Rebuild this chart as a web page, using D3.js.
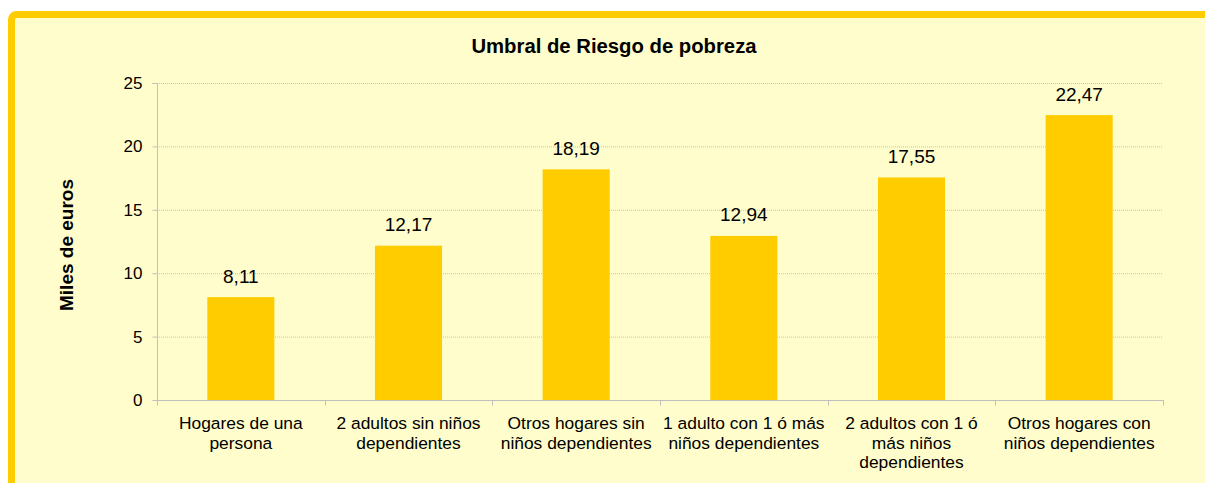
<!DOCTYPE html>
<html>
<head>
<meta charset="utf-8">
<script src="https://cdn.jsdelivr.net/npm/d3@7"></script>
<style>
  body { margin: 0; background: #fff; overflow: hidden; }
  text { font-family: "Liberation Sans", Arial, sans-serif; fill: #000; }
</style>
</head>
<body>
<div id="chart"></div>
<script>
const categories = [
  "Hogares de una\npersona",
  "2 adultos sin niños\ndependientes",
  "Otros hogares sin\nniños dependientes",
  "1 adulto con 1 ó más\nniños dependientes",
  "2 adultos con 1 ó\nmás niños\ndependientes",
  "Otros hogares con\nniños dependientes"
];
const values = [8.11, 12.17, 18.19, 12.94, 17.55, 22.47];
const yTicks = [0, 5, 10, 15, 20, 25];

const width = 1205, height = 483;
const plot = {left: 157, right: 1163, top: 83, bottom: 400};

const svg = d3.select("#chart").append("svg")
  .attr("width", width)
  .attr("height", height);

// chart frame, runs past the window on the right and bottom
svg.append("rect")
  .attr("x", 11.5).attr("y", 14.5)
  .attr("width", 1400).attr("height", 700)
  .attr("rx", 5)
  .attr("fill", "#FFFDCB")
  .attr("stroke", "#FFCC00")
  .attr("stroke-width", 7);

const x = d3.scaleBand().domain(categories).range([plot.left, plot.right]);
const xBar = d3.scaleBand().domain(categories).range([plot.left, plot.right])
  .paddingInner(0.6).paddingOuter(0.3);
const y = d3.scaleLinear().domain([0, 25]).range([plot.bottom, plot.top]);

// gridlines
svg.append("g").selectAll("line")
  .data(yTicks.filter(d => d > 0))
  .enter().append("line")
  .attr("x1", plot.left).attr("x2", plot.right)
  .attr("y1", d => y(d) + 0.5).attr("y2", d => y(d) + 0.5)
  .attr("stroke", "#C4C4C0")
  .attr("stroke-dasharray", "1,1");

// bars
svg.append("g").selectAll("rect")
  .data(values)
  .enter().append("rect")
  .attr("x", (d, i) => xBar(categories[i]))
  .attr("width", xBar.bandwidth())
  .attr("y", d => y(d))
  .attr("height", d => y(0) - y(d))
  .attr("fill", "#FFCC00");

// value labels
svg.append("g").selectAll("text")
  .data(values)
  .enter().append("text")
  .attr("x", (d, i) => xBar(categories[i]) + xBar.bandwidth() / 2)
  .attr("y", d => y(d) - 14.5)
  .attr("text-anchor", "middle")
  .style("font-size", "19px")
  .text(d => d.toFixed(2).replace(".", ","));

// y axis
const yAxis = svg.append("g")
  .attr("transform", `translate(${plot.left + 0.5},0)`)
  .call(d3.axisLeft(y).tickValues(yTicks).tickSize(5).tickPadding(10).tickFormat(d => d));
yAxis.select(".domain").attr("stroke", "#BFBFBF").attr("d", `M-5,${plot.top + 0.5}H0V${plot.bottom + 0.5}`);
yAxis.selectAll(".tick line").attr("stroke", "#BFBFBF");
yAxis.selectAll(".tick text").style("font-size", "17px").attr("fill", "#000")
  .style("font-family", "'Liberation Sans', Arial, sans-serif");

// x axis
const xAxis = svg.append("g").attr("transform", `translate(0,${plot.bottom + 0.5})`);
xAxis.append("line")
  .attr("x1", plot.left).attr("x2", plot.right + 1)
  .attr("stroke", "#BFBFBF");
xAxis.selectAll(".xt")
  .data(categories.map(c => x(c)).concat([plot.right]))
  .enter().append("line")
  .attr("x1", d => Math.round(d) + 0.5).attr("x2", d => Math.round(d) + 0.5)
  .attr("y1", 0).attr("y2", 5)
  .attr("stroke", "#BFBFBF");

const catText = svg.append("g").selectAll("text")
  .data(categories)
  .enter().append("text")
  .attr("text-anchor", "middle")
  .style("font-size", "17.4px");
catText.each(function (d) {
  const t = d3.select(this);
  d.split("\n").forEach((line, i) => {
    t.append("tspan")
      .attr("x", x(d) + x.bandwidth() / 2)
      .attr("y", 429 + i * 19.5)
      .text(line);
  });
});

// title
svg.append("text")
  .attr("x", 614).attr("y", 53)
  .attr("text-anchor", "middle")
  .style("font-size", "20.3px")
  .style("font-weight", "bold")
  .text("Umbral de Riesgo de pobreza");

// y axis title
svg.append("text")
  .attr("transform", `translate(73,245) rotate(-90)`)
  .attr("text-anchor", "middle")
  .style("font-size", "19px")
  .style("font-weight", "bold")
  .text("Miles de euros");
</script>
</body>
</html>
